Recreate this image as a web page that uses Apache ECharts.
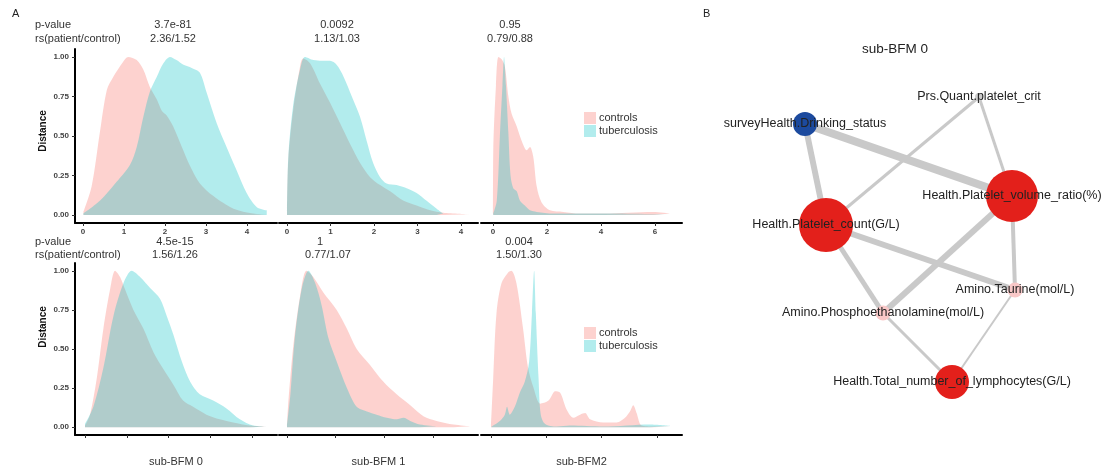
<!DOCTYPE html>
<html>
<head>
<meta charset="utf-8">
<script src="https://cdn.jsdelivr.net/npm/echarts@6.0.0/dist/echarts.min.js"></script>
<style>
  html, body { margin: 0; padding: 0; background: #fff; }
  #main { width: 1110px; height: 468px; }
</style>
</head>
<body>
<div id="main"></div>
<script>
// density curves, [x, scaled density]
const ctrlTop0 = [[0.01,0.02],[0.21,0.18],[0.41,0.52],[0.58,0.79],[0.74,0.875],[0.98,0.97],[1.10,1.0],[1.31,0.98],[1.47,0.92],[1.63,0.81],[1.80,0.73],[1.92,0.66],[2.04,0.63],[2.20,0.56],[2.41,0.43],[2.61,0.31],[2.85,0.20],[3.18,0.12],[3.67,0.04],[4.15,0.01],[4.48,0.005]];
const tbTop0 = [[0.01,0.01],[0.41,0.09],[0.82,0.21],[1.15,0.32],[1.31,0.43],[1.47,0.62],[1.63,0.78],[1.80,0.875],[1.96,0.96],[2.12,1.0],[2.28,0.98],[2.45,0.95],[2.65,0.93],[2.85,0.90],[3.02,0.77],[3.26,0.58],[3.50,0.43],[3.75,0.28],[3.99,0.14],[4.24,0.05],[4.48,0.03]];
const ctrlTop1 = [[0,0.01],[0.03,0.35],[0.14,0.66],[0.30,0.94],[0.37,0.99],[0.53,0.96],[0.76,0.83],[0.99,0.71],[1.22,0.58],[1.45,0.45],[1.68,0.33],[1.91,0.24],[2.14,0.19],[2.37,0.15],[2.68,0.09],[2.98,0.06],[3.29,0.03],[3.59,0.015],[4.21,0.005]];
const tbTop1 = [[0,0.01],[0.03,0.37],[0.14,0.69],[0.30,0.92],[0.41,1.0],[0.61,0.98],[0.80,0.975],[0.99,0.975],[1.14,0.95],[1.30,0.875],[1.49,0.75],[1.68,0.62],[1.83,0.47],[1.98,0.33],[2.14,0.24],[2.29,0.20],[2.52,0.19],[2.75,0.17],[2.98,0.14],[3.21,0.09],[3.44,0.04],[3.59,0.01]];
const ctrlTop2 = [[0,0.01],[0.01,0.40],[0.11,0.82],[0.20,1.0],[0.32,0.985],[0.44,0.94],[0.57,0.75],[0.69,0.64],[0.88,0.56],[1.06,0.47],[1.25,0.41],[1.37,0.43],[1.49,0.37],[1.62,0.18],[1.80,0.08],[2.11,0.03],[2.60,0.02],[3.22,0.01],[4.09,0.01],[5.94,0.02],[6.56,0.01]];
const tbTop2 = [[0.01,0.01],[0.14,0.09],[0.26,0.52],[0.35,0.82],[0.41,1.0],[0.48,0.82],[0.57,0.52],[0.65,0.25],[0.75,0.17],[0.88,0.15],[1.0,0.09],[1.18,0.06],[1.37,0.03],[1.62,0.02],[2.23,0.01],[4.09,0.01],[6.56,0.005]];
const ctrlBot0 = [[0,0.01],[0.12,0.08],[0.28,0.31],[0.44,0.63],[0.60,0.88],[0.72,1.0],[0.84,0.96],[0.96,0.88],[1.16,0.75],[1.40,0.63],[1.64,0.48],[1.88,0.37],[2.12,0.27],[2.35,0.17],[2.59,0.13],[2.91,0.08],[3.23,0.05],[3.55,0.03],[3.95,0.01],[4.35,0.004]];
const tbBot0 = [[0,0.02],[0.20,0.13],[0.44,0.38],[0.68,0.71],[0.92,0.92],[1.12,1.0],[1.32,0.96],[1.56,0.89],[1.80,0.82],[1.96,0.71],[2.12,0.59],[2.32,0.42],[2.52,0.29],[2.75,0.21],[3.07,0.17],[3.39,0.12],[3.71,0.05],[4.03,0.01],[4.35,0.004]];
const ctrlBot1 = [[0,0.01],[0.03,0.17],[0.13,0.52],[0.27,0.84],[0.40,1.0],[0.54,0.96],[0.75,0.86],[1.02,0.75],[1.23,0.63],[1.43,0.50],[1.70,0.40],[1.98,0.29],[2.25,0.21],[2.53,0.14],[2.80,0.07],[3.07,0.04],[3.42,0.017],[3.76,0.006]];
const tbBot1 = [[0,0.01],[0.07,0.21],[0.16,0.57],[0.30,0.88],[0.44,1.0],[0.58,0.92],[0.71,0.78],[0.85,0.57],[1.02,0.42],[1.23,0.25],[1.43,0.13],[1.64,0.10],[1.84,0.08],[2.05,0.06],[2.25,0.05],[2.39,0.06],[2.53,0.04],[2.73,0.017],[3.07,0.006]];
const ctrlBot2 = [[0,0.01],[0.04,0.31],[0.10,0.73],[0.19,0.92],[0.31,0.99],[0.37,1.0],[0.46,0.92],[0.58,0.63],[0.67,0.38],[0.77,0.25],[0.89,0.15],[1.04,0.17],[1.16,0.23],[1.25,0.22],[1.37,0.11],[1.49,0.06],[1.61,0.08],[1.70,0.09],[1.79,0.05],[2.03,0.03],[2.27,0.03],[2.42,0.06],[2.51,0.10],[2.57,0.14],[2.63,0.09],[2.72,0.01],[2.93,0.004],[3.24,0.004]];
const tbBot2 = [[0.01,0.004],[0.16,0.04],[0.25,0.08],[0.29,0.13],[0.34,0.08],[0.43,0.13],[0.52,0.22],[0.61,0.29],[0.69,0.42],[0.74,0.73],[0.78,1.0],[0.81,0.73],[0.86,0.31],[0.90,0.08],[0.98,0.02],[1.19,0.004],[1.43,0.01],[2.03,0.004],[2.87,0.017],[3.24,0.008]];

const yTicks = [0, 0.25, 0.5, 0.75, 1];
const xTicks = [[0,1,2,3,4],[0,1,2,3,4],[0,2,4,6],[0,1,2,3,4],[0,1,2,3],[0,1,2,3]];
const xTitles = ['sub-BFM 0', 'sub-BFM 1', 'sub-BFM2'];
const pValues = ['3.7e-81', '0.0092', '0.95', '4.5e-15', '1', '0.004'];
const rsValues = ['2.36/1.52', '1.13/1.03', '0.79/0.88', '1.56/1.26', '0.77/1.07', '1.50/1.30'];

// network (sub-BFM 0)
const nodeNames = ['surveyHealth.Drinking_status', 'Prs.Quant.platelet_crit', 'Health.Platelet_volume_ratio(%)',
  'Health.Platelet_count(G/L)', 'Amino.Taurine(mol/L)', 'Amino.Phosphoethanolamine(mol/L)',
  'Health.Total_number_of_lymphocytes(G/L)'];
const nodeX = [115, 289, 322, 136, 325, 193, 262];
const nodeY = [124, 97, 196, 225, 290, 313, 382];
const nodeSize = [24, 8, 52, 54, 15, 15, 34];
const nodeType = ['neg', 'none', 'pos', 'pos', 'weak', 'weak', 'pos'];
const edgeList = [[0,2,8],[0,3,6],[1,3,3],[1,2,3],[3,4,6],[3,5,5],[2,5,6],[2,4,4],[5,6,3],[4,6,2]];

const FONT = 'Liberation Sans, Arial, sans-serif';
const CTRL = 'rgba(248,118,109,0.33)';
const TB = 'rgba(0,191,196,0.3)';
const typeColor = { neg: '#1c4a9e', none: '#cdcdcd', pos: '#e3201b', weak: '#f9c8c8' };

const curves = [[ctrlTop0, tbTop0], [ctrlTop1, tbTop1], [ctrlTop2, tbTop2],
                [ctrlBot0, tbBot0], [ctrlBot1, tbBot1], [ctrlBot2, tbBot2]];
// panel geometry: left, width, x range
const cols = [{ left: 75, width: 202 }, { left: 279, width: 199 }, { left: 481, width: 201 }];
const xRange = [[-0.195, 4.73], [-0.184, 4.39], [-0.444, 7.0], [-0.24, 4.6], [-0.164, 3.92], [-0.18, 3.45]];
const rows = [{ top: 49, height: 174 }, { top: 263, height: 175 }];

const grids = [], xAxes = [], yAxes = [], series = [];
for (let i = 0; i < 6; i++) {
  const r = Math.floor(i / 3), c = i % 3;
  grids.push({ left: cols[c].left, width: cols[c].width, top: rows[r].top, height: rows[r].height });
  xAxes.push({
    type: 'value', gridIndex: i, min: xRange[i][0], max: xRange[i][1],
    axisLine: { show: true, onZero: false, lineStyle: { color: '#000', width: 2 } },
    axisTick: { show: true, length: 3, customValues: xTicks[i], lineStyle: { color: '#333' } },
    axisLabel: { show: r === 0, customValues: xTicks[i], margin: 5, fontSize: 8, fontWeight: 'bold', color: '#444', fontFamily: FONT },
    splitLine: { show: false },
    name: r === 1 ? xTitles[c] : '', nameLocation: 'middle', nameGap: 21,
    nameTextStyle: { fontSize: 11, color: '#333', fontFamily: FONT }
  });
  yAxes.push({
    type: 'value', gridIndex: i, min: -0.05, max: 1.05,
    axisLine: { show: c === 0, onZero: false, lineStyle: { color: '#000', width: 2 } },
    axisTick: { show: c === 0, length: 3, customValues: yTicks, lineStyle: { color: '#333' } },
    axisLabel: { show: c === 0, customValues: yTicks, margin: 6, fontSize: 8, fontWeight: 'bold', color: '#444',
      fontFamily: FONT, formatter: v => v.toFixed(2) },
    splitLine: { show: false }
  });
  [['controls', CTRL, curves[i][0]], ['tuberculosis', TB, curves[i][1]]].forEach(([name, col, d]) => {
    series.push({
      type: 'line', name: name, xAxisIndex: i, yAxisIndex: i, data: d,
      smooth: 0.3, showSymbol: false, symbol: 'none', sampling: null,
      itemStyle: { color: col }, lineStyle: { width: 0, color: col },
      areaStyle: { color: col, opacity: 1 }, silent: true
    });
  });
}

// network grid
grids.push({ left: 690, width: 420, top: 0, height: 468 });
xAxes.push({ type: 'value', gridIndex: 6, min: 0, max: 420, show: false });
yAxes.push({ type: 'value', gridIndex: 6, min: 0, max: 468, inverse: true, show: false });
series.push({
  type: 'graph', name: 'network', coordinateSystem: 'cartesian2d', xAxisIndex: 6, yAxisIndex: 6,
  data: nodeNames.map((n, k) => ({
    name: n, value: [nodeX[k], nodeY[k]], symbolSize: nodeSize[k],
    itemStyle: { color: typeColor[nodeType[k]] }
  })),
  links: edgeList.map(e => ({ source: e[0], target: e[1], lineStyle: { width: e[2] } })),
  lineStyle: { color: '#c9c9c9', opacity: 1, curveness: 0 },
  label: { show: true, position: 'inside', color: '#222', fontSize: 12.5, fontFamily: FONT },
  silent: true
});

const graphic = [
  { type: 'text', x: 12, y: 14, style: { text: 'A', font: '11px ' + FONT, fill: '#222', verticalAlign: 'middle' } },
  { type: 'text', x: 703, y: 14, style: { text: 'B', font: '11px ' + FONT, fill: '#222', verticalAlign: 'middle' } },
  { type: 'text', x: 895, y: 49, style: { text: 'sub-BFM 0', font: '13.5px ' + FONT, fill: '#222', align: 'center', verticalAlign: 'middle' } }
];
const headY = [[25, 39], [242, 255]];
const valX = [[173, 337, 510], [175, 320, 519]];
for (let r = 0; r < 2; r++) {
  graphic.push({ type: 'text', x: 35, y: headY[r][0], style: { text: 'p-value', font: '11px ' + FONT, fill: '#333', verticalAlign: 'middle' } });
  graphic.push({ type: 'text', x: 35, y: headY[r][1], style: { text: 'rs(patient/control)', font: '11px ' + FONT, fill: '#333', verticalAlign: 'middle' } });
  graphic.push({ type: 'text', x: 43, y: [131, 327][r], rotation: Math.PI / 2,
    style: { text: 'Distance', font: 'bold 10px ' + FONT, fill: '#111', align: 'center', verticalAlign: 'middle' } });
  for (let c = 0; c < 3; c++) {
    const k = r * 3 + c;
    graphic.push({ type: 'text', x: valX[r][c], y: headY[r][0], style: { text: pValues[k], font: '11px ' + FONT, fill: '#333', align: 'center', verticalAlign: 'middle' } });
    graphic.push({ type: 'text', x: valX[r][c] + (r === 1 && c === 1 ? 8 : 0), y: headY[r][1], style: { text: rsValues[k], font: '11px ' + FONT, fill: '#333', align: 'center', verticalAlign: 'middle' } });
  }
}

const legendBase = {
  data: ['controls', 'tuberculosis'], orient: 'vertical', left: 584,
  itemWidth: 12, itemHeight: 12, itemGap: 1, icon: 'rect',
  textStyle: { fontSize: 11, color: '#333', fontFamily: FONT, padding: [0, 0, 0, -2] },
  selectedMode: false, padding: 0
};

const chart = echarts.init(document.getElementById('main'), null, { renderer: 'canvas' });
chart.setOption({
  animation: false,
  backgroundColor: '#fff',
  grid: grids, xAxis: xAxes, yAxis: yAxes, series: series,
  legend: [Object.assign({ top: 112 }, legendBase), Object.assign({ top: 327 }, legendBase)],
  graphic: graphic
});
</script>
</body>
</html>
